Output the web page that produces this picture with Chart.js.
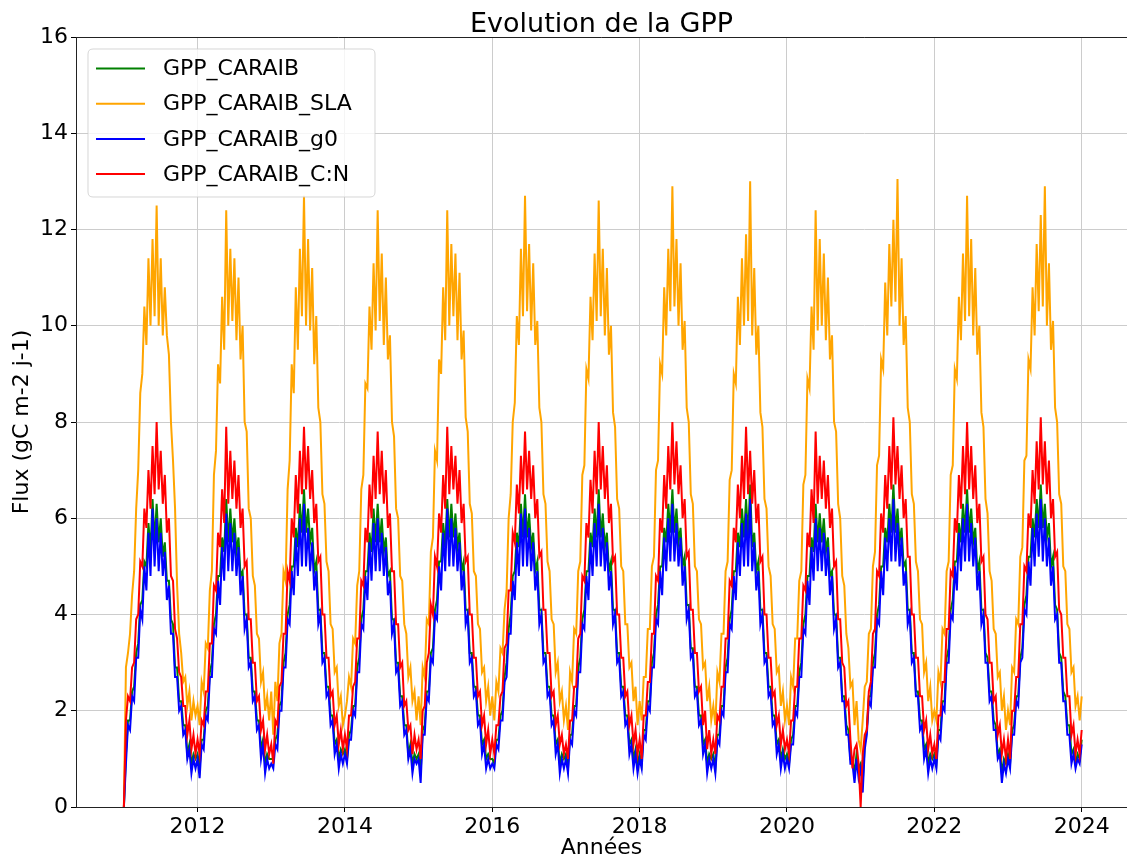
<!DOCTYPE html>
<html lang="fr">
<head>
<meta charset="utf-8">
<title>Evolution de la GPP</title>
<script src="https://cdn.jsdelivr.net/npm/chart.js@4.4.1/dist/chart.umd.min.js"></script>
<style>
  html, body { margin: 0; padding: 0; background: #ffffff; }
  #wrap { width: 1127px; height: 861px; }
</style>
</head>
<body>
<div id="wrap"><canvas id="gpp" width="1127" height="861"></canvas></div>
<script>
// Simulated GPP (gC m-2 j-1), 36 values per year (about every 10 days), 2011-01-01 to 2024-01-01
const startYear = 2011;
const samplesPerYear = 36;

const seriesLabels = ['GPP_CARAIB', 'GPP_CARAIB_SLA', 'GPP_CARAIB_g0', 'GPP_CARAIB_C:N'];
const seriesColors = ['green', 'orange', 'blue', 'red'];
const xTickYears = [2012, 2014, 2016, 2018, 2020, 2022, 2024];
const yTickStep = 2;

const gppCaraib = [
  /* 2011 */ 0, 1.1, 1.8, 1.8, 2.4, 2.5, 3.2, 3.4, 4.2, 4.3, 5.1, 5.0, 5.9, 5.3, 6.4, 5.5, 6.3, 5.5, 6.0, 5.2, 5.5, 4.7, 4.7, 3.9, 3.8, 2.9, 2.9, 2.2, 2.2, 1.7, 1.7, 1.1, 1.3, 0.9, 1.1, 1.0,
  /* 2012 */ 1.1, 0.8, 1.4, 1.4, 2.0, 2.1, 2.8, 3.0, 3.8, 4.0, 4.8, 4.8, 5.6, 5.3, 6.4, 5.5, 6.2, 5.5, 6.0, 5.3, 5.6, 4.8, 4.9, 4.0, 4.0, 3.1, 3.1, 2.4, 2.4, 1.8, 1.8, 1.2, 1.4, 0.9, 1.1, 1.0,
  /* 2013 */ 1.0, 1.0, 1.4, 1.5, 2.1, 2.2, 3.0, 3.2, 4.0, 4.2, 5.0, 5.0, 5.8, 5.4, 6.3, 5.7, 6.6, 5.7, 6.2, 5.5, 5.8, 4.9, 5.1, 4.1, 4.1, 3.2, 3.2, 2.5, 2.5, 1.9, 1.9, 1.3, 1.4, 1.0, 1.2, 1.1,
  /* 2014 */ 1.2, 1.0, 1.5, 1.6, 2.1, 2.1, 2.9, 3.1, 3.9, 4.1, 4.9, 4.9, 5.7, 5.3, 6.2, 5.5, 6.3, 5.5, 6.0, 5.3, 5.6, 4.8, 4.9, 3.9, 3.9, 3.0, 3.0, 2.3, 2.3, 1.7, 1.7, 1.1, 1.3, 0.9, 1.1, 1.0,
  /* 2015 */ 1.1, 0.7, 1.6, 1.7, 2.4, 2.4, 3.2, 3.3, 4.1, 4.3, 5.1, 5.1, 5.9, 5.4, 6.4, 5.6, 6.3, 5.6, 6.1, 5.4, 5.7, 4.9, 5.1, 4.1, 4.1, 3.2, 3.2, 2.5, 2.5, 1.9, 1.9, 1.3, 1.4, 1.0, 1.1, 1.0,
  /* 2016 */ 1.0, 0.9, 1.4, 1.4, 1.9, 2.0, 2.7, 3.0, 3.7, 4.0, 4.8, 4.9, 5.7, 5.4, 6.3, 5.6, 6.5, 5.6, 6.1, 5.4, 5.7, 4.9, 5.1, 4.1, 4.1, 3.2, 3.2, 2.5, 2.5, 1.9, 1.9, 1.3, 1.4, 0.9, 1.1, 1.0,
  /* 2017 */ 1.1, 0.8, 1.5, 1.5, 2.1, 2.1, 2.9, 3.1, 3.9, 4.1, 4.9, 4.9, 5.7, 5.4, 6.2, 5.6, 6.6, 5.6, 6.1, 5.4, 5.7, 4.9, 5.1, 4.1, 4.1, 3.2, 3.2, 2.5, 2.5, 1.9, 1.9, 1.3, 1.4, 1.0, 1.2, 0.9,
  /* 2018 */ 1.1, 0.9, 1.6, 1.6, 2.2, 2.2, 3.0, 3.2, 4.0, 4.2, 5.0, 5.0, 5.8, 5.5, 6.3, 5.7, 6.6, 5.7, 6.2, 5.5, 5.8, 5.0, 5.2, 4.2, 4.2, 3.3, 3.3, 2.5, 2.5, 1.9, 1.9, 1.3, 1.4, 0.9, 1.1, 1.0,
  /* 2019 */ 1.1, 0.8, 1.5, 1.5, 2.1, 2.1, 2.9, 3.1, 3.9, 4.1, 4.9, 4.9, 5.7, 5.4, 6.2, 5.6, 6.4, 5.6, 6.7, 5.4, 5.7, 4.9, 5.1, 4.1, 4.1, 3.2, 3.2, 2.5, 2.5, 1.9, 1.9, 1.3, 1.4, 1.0, 1.2, 1.0,
  /* 2020 */ 1.1, 0.9, 1.4, 1.5, 2.1, 2.1, 2.8, 3.0, 3.8, 4.0, 4.8, 4.8, 5.6, 5.3, 6.3, 5.5, 6.1, 5.5, 6.0, 5.3, 5.6, 4.8, 4.9, 4.0, 4.0, 3.1, 3.1, 2.3, 2.3, 1.7, 1.6, 1.0, 1.0, 0.7, 1.1, 0.8,
  /* 2021 */ 0.9, 0.5, 1.3, 1.6, 2.3, 2.3, 3.0, 3.2, 4.0, 4.2, 5.0, 5.0, 5.8, 5.5, 6.3, 5.7, 6.7, 5.7, 6.2, 5.5, 5.8, 5.0, 5.1, 4.1, 4.1, 3.2, 3.2, 2.4, 2.4, 1.8, 1.8, 1.2, 1.3, 0.9, 1.1, 1.0,
  /* 2022 */ 1.1, 0.9, 1.6, 1.6, 2.2, 2.2, 3.1, 3.3, 4.1, 4.3, 5.1, 5.1, 5.9, 5.5, 6.3, 5.7, 6.6, 5.7, 6.2, 5.5, 5.8, 4.9, 5.1, 4.1, 4.1, 3.2, 3.1, 2.4, 2.4, 1.8, 1.7, 1.1, 1.2, 0.7, 1.0, 0.9,
  /* 2023 */ 1.1, 0.9, 1.6, 1.7, 2.3, 2.3, 3.1, 3.3, 4.2, 4.4, 5.2, 5.2, 6.0, 5.6, 6.4, 5.8, 6.7, 5.8, 6.3, 5.6, 5.9, 5.0, 5.2, 4.2, 4.1, 3.2, 3.1, 2.4, 2.3, 1.7, 1.7, 1.1, 1.2, 0.9, 1.1, 1.0,
  /* 2024 */ 1.4
];

const gppCaraibSla = [
  /* 2011 */ 0, 2.9, 3.2, 3.6, 4.4, 4.9, 6.2, 7.0, 8.6, 9.0, 10.4, 9.6, 11.4, 10.0, 11.8, 10.2, 12.5, 10.0, 11.4, 9.8, 10.8, 9.8, 9.4, 8.0, 7.2, 6.2, 4.6, 3.6, 3.2, 2.6, 2.7, 2.1, 2.4, 1.8, 2.2, 1.9,
  /* 2012 */ 2.1, 1.7, 2.6, 2.4, 3.4, 3.3, 4.5, 4.9, 6.9, 7.4, 9.2, 8.8, 10.6, 9.5, 12.4, 10.0, 11.6, 10.1, 11.4, 9.7, 11.0, 9.3, 10.0, 8.0, 7.8, 6.2, 6.0, 4.8, 4.6, 3.6, 3.5, 2.6, 2.8, 2.0, 2.3, 1.8,
  /* 2013 */ 2.4, 1.5, 2.6, 2.2, 3.4, 3.6, 4.9, 4.7, 6.6, 7.2, 9.2, 8.6, 10.8, 9.5, 11.6, 10.2, 12.7, 10.0, 11.8, 9.9, 11.2, 9.2, 10.2, 8.3, 8.0, 6.5, 6.3, 5.1, 4.9, 3.8, 3.7, 2.8, 2.9, 2.1, 2.3, 1.7,
  /* 2014 */ 1.9, 2.2, 2.7, 2.5, 3.5, 3.4, 4.6, 4.9, 6.6, 6.9, 8.8, 8.7, 10.4, 9.5, 11.3, 9.9, 12.4, 10.1, 11.5, 9.6, 11.0, 9.3, 9.8, 8.0, 7.7, 6.2, 6.0, 4.8, 4.7, 3.8, 3.6, 2.7, 2.9, 2.2, 2.4, 1.8,
  /* 2015 */ 2.3, 1.7, 2.9, 2.7, 3.9, 3.8, 5.3, 5.6, 7.4, 7.2, 9.3, 9.0, 10.8, 9.7, 12.4, 10.0, 11.7, 10.2, 11.5, 9.7, 11.1, 9.3, 9.9, 8.1, 7.8, 6.3, 6.1, 4.9, 4.8, 3.8, 3.7, 2.8, 2.9, 2.2, 2.5, 1.9,
  /* 2016 */ 2.3, 1.8, 2.6, 2.4, 3.3, 3.2, 4.1, 4.5, 6.0, 6.5, 8.0, 8.4, 10.2, 9.6, 11.6, 10.2, 12.7, 10.3, 11.7, 9.9, 11.3, 9.6, 10.1, 8.3, 8.0, 6.5, 6.3, 5.1, 4.9, 3.9, 3.8, 2.8, 3.0, 2.2, 2.4, 1.8,
  /* 2017 */ 2.1, 1.6, 2.8, 2.6, 3.7, 3.6, 4.9, 5.1, 6.9, 7.1, 9.1, 8.9, 10.6, 9.7, 11.5, 10.1, 12.6, 10.2, 11.6, 9.8, 11.2, 9.4, 10.0, 8.2, 7.9, 6.4, 6.2, 5.0, 4.9, 3.8, 3.8, 2.9, 3.0, 2.2, 2.5, 1.7,
  /* 2018 */ 2.2, 1.8, 2.7, 2.7, 3.7, 3.7, 5.0, 5.2, 7.0, 7.2, 9.2, 9.0, 10.8, 9.8, 11.6, 10.3, 12.9, 10.4, 11.8, 10.0, 11.3, 9.5, 10.1, 8.3, 8.0, 6.5, 6.3, 5.0, 4.9, 3.9, 3.8, 2.9, 3.0, 2.2, 2.5, 1.8,
  /* 2019 */ 2.1, 1.7, 2.8, 2.6, 3.6, 3.6, 4.9, 5.1, 6.8, 7.0, 9.0, 8.8, 10.6, 9.6, 11.4, 10.0, 11.9, 10.1, 13.0, 9.8, 11.2, 9.4, 10.0, 8.2, 7.9, 6.4, 6.2, 5.0, 4.8, 3.8, 3.7, 2.8, 2.9, 2.1, 2.4, 1.8,
  /* 2020 */ 2.1, 1.7, 2.7, 2.5, 3.5, 3.5, 4.7, 4.9, 6.7, 6.9, 8.9, 8.7, 10.4, 9.5, 12.4, 9.9, 11.8, 10.0, 11.5, 9.7, 11.0, 9.3, 9.8, 8.0, 7.8, 6.3, 6.0, 4.8, 4.6, 3.6, 3.3, 2.5, 2.6, 1.7, 2.2, 1.4,
  /* 2021 */ 1.2, 1.8, 2.5, 2.6, 3.6, 3.7, 5.0, 5.3, 7.1, 7.3, 9.3, 9.1, 10.9, 9.8, 11.7, 10.4, 12.2, 10.5, 13.05, 10.0, 11.4, 9.6, 10.2, 8.3, 8.0, 6.5, 6.3, 5.1, 4.9, 3.9, 3.8, 2.8, 3.0, 2.2, 2.5, 1.8,
  /* 2022 */ 2.0, 1.8, 2.8, 2.6, 3.7, 3.6, 4.9, 5.1, 6.9, 7.1, 9.1, 8.9, 10.6, 9.7, 11.5, 10.1, 12.7, 10.2, 11.8, 9.8, 11.2, 9.4, 10.0, 8.2, 7.9, 6.4, 6.1, 4.9, 4.7, 3.7, 3.6, 2.7, 2.8, 2.0, 2.3, 1.6,
  /* 2023 */ 2.0, 1.7, 2.9, 2.8, 3.9, 3.8, 5.2, 5.4, 7.2, 7.3, 9.3, 9.1, 10.8, 9.8, 11.7, 10.3, 12.3, 10.4, 12.9, 10.0, 11.3, 9.5, 10.1, 8.3, 8.0, 6.5, 6.3, 5.0, 4.9, 3.8, 3.7, 2.8, 2.9, 2.1, 2.3, 1.8,
  /* 2024 */ 2.3
];

const gppCaraibG0 = [
  /* 2011 */ 0, 0.9, 1.7, 1.6, 2.3, 2.2, 3.1, 3.1, 4.1, 3.9, 5.0, 4.5, 5.7, 4.8, 6.2, 5.0, 6.0, 4.9, 5.7, 4.8, 5.3, 4.3, 4.6, 3.6, 3.6, 2.7, 2.7, 2.0, 2.1, 1.5, 1.6, 1.0, 1.2, 0.7, 1.0, 0.8,
  /* 2012 */ 1.0, 0.6, 1.3, 1.2, 1.9, 1.8, 2.7, 2.7, 3.7, 3.6, 4.7, 4.2, 5.4, 4.7, 6.1, 4.9, 5.9, 4.9, 5.7, 4.8, 5.4, 4.4, 4.8, 3.7, 3.9, 2.9, 3.0, 2.2, 2.3, 1.6, 1.7, 1.0, 1.3, 0.7, 1.0, 0.8,
  /* 2013 */ 0.9, 0.8, 1.3, 1.2, 2.0, 2.0, 2.9, 2.9, 3.9, 3.8, 4.9, 4.4, 5.6, 4.8, 6.0, 5.0, 6.3, 5.0, 5.8, 4.9, 5.5, 4.5, 4.9, 3.8, 4.0, 3.0, 3.1, 2.3, 2.4, 1.7, 1.8, 1.1, 1.3, 0.8, 1.1, 0.9,
  /* 2014 */ 1.1, 0.9, 1.4, 1.4, 2.0, 1.9, 2.8, 2.8, 3.8, 3.7, 4.8, 4.3, 5.5, 4.7, 5.9, 4.9, 6.0, 4.9, 5.7, 4.8, 5.4, 4.4, 4.7, 3.6, 3.8, 2.8, 2.9, 2.1, 2.2, 1.5, 1.6, 1.0, 1.2, 0.7, 1.0, 0.9,
  /* 2015 */ 1.0, 0.5, 1.5, 1.5, 2.3, 2.2, 3.1, 3.0, 4.0, 3.9, 5.0, 4.5, 5.7, 4.9, 6.2, 5.0, 6.0, 5.0, 5.8, 4.9, 5.5, 4.5, 4.9, 3.8, 4.0, 3.0, 3.1, 2.3, 2.4, 1.7, 1.8, 1.1, 1.3, 0.8, 1.0, 0.8,
  /* 2016 */ 0.9, 0.8, 1.3, 1.2, 1.8, 1.8, 2.6, 2.7, 3.6, 3.6, 4.7, 4.3, 5.5, 4.8, 6.1, 5.0, 6.2, 5.0, 5.8, 4.9, 5.5, 4.5, 4.9, 3.8, 4.0, 3.0, 3.1, 2.3, 2.4, 1.7, 1.8, 1.1, 1.3, 0.7, 1.0, 0.8,
  /* 2017 */ 1.0, 0.7, 1.4, 1.3, 2.0, 1.9, 2.8, 2.8, 3.8, 3.7, 4.8, 4.3, 5.5, 4.8, 5.9, 5.0, 6.3, 5.0, 5.8, 4.9, 5.5, 4.5, 4.9, 3.8, 4.0, 3.0, 3.1, 2.3, 2.4, 1.7, 1.8, 1.1, 1.3, 0.8, 1.1, 0.7,
  /* 2018 */ 1.0, 0.8, 1.5, 1.4, 2.1, 2.0, 2.9, 2.9, 3.9, 3.8, 4.9, 4.4, 5.6, 4.9, 6.0, 5.1, 6.3, 5.1, 5.9, 5.0, 5.6, 4.6, 5.0, 3.9, 4.1, 3.1, 3.2, 2.3, 2.4, 1.7, 1.8, 1.1, 1.3, 0.7, 1.0, 0.8,
  /* 2019 */ 1.0, 0.7, 1.4, 1.3, 2.0, 1.9, 2.8, 2.8, 3.8, 3.7, 4.8, 4.3, 5.5, 4.8, 5.9, 5.0, 6.1, 5.0, 6.4, 4.9, 5.5, 4.5, 4.9, 3.8, 4.0, 3.0, 3.1, 2.3, 2.4, 1.7, 1.8, 1.1, 1.3, 0.8, 1.1, 0.8,
  /* 2020 */ 1.0, 0.8, 1.3, 1.3, 2.0, 1.9, 2.7, 2.7, 3.7, 3.6, 4.7, 4.2, 5.4, 4.7, 6.0, 4.9, 5.8, 4.9, 5.7, 4.8, 5.4, 4.4, 4.8, 3.7, 3.9, 2.9, 3.0, 2.2, 2.2, 1.5, 1.5, 0.9, 0.9, 0.5, 1.0, 0.6,
  /* 2021 */ 0.8, 0.3, 1.2, 1.5, 2.2, 2.1, 2.9, 2.9, 3.9, 3.8, 4.9, 4.4, 5.6, 4.9, 6.0, 5.1, 6.4, 5.1, 5.9, 5.0, 5.6, 4.6, 4.9, 3.8, 4.0, 3.0, 3.1, 2.3, 2.3, 1.6, 1.7, 1.0, 1.2, 0.7, 1.0, 0.8,
  /* 2022 */ 1.0, 0.8, 1.5, 1.4, 2.1, 2.0, 3.0, 3.0, 4.0, 3.9, 5.0, 4.5, 5.7, 4.9, 6.0, 5.1, 6.3, 5.1, 5.9, 5.0, 5.6, 4.5, 4.9, 3.8, 4.0, 3.0, 3.0, 2.2, 2.3, 1.6, 1.6, 1.0, 1.1, 0.5, 0.9, 0.7,
  /* 2023 */ 1.0, 0.8, 1.5, 1.5, 2.2, 2.1, 3.0, 3.1, 4.1, 4.0, 5.1, 4.6, 5.8, 5.0, 6.1, 5.2, 6.4, 5.1, 6.0, 5.0, 5.6, 4.6, 5.0, 3.9, 4.0, 3.0, 3.0, 2.2, 2.2, 1.5, 1.5, 0.9, 1.1, 0.8, 1.0, 0.9,
  /* 2024 */ 1.3
];

const gppCaraibCN = [
  /* 2011 */ 0, 1.8, 2.3, 2.2, 2.9, 3.0, 3.9, 4.0, 5.1, 5.0, 6.2, 5.8, 7.0, 6.2, 7.5, 6.5, 8.0, 6.6, 7.4, 6.3, 6.9, 5.7, 6.0, 4.8, 4.7, 3.7, 3.5, 2.8, 2.7, 2.1, 2.1, 1.5, 1.8, 1.2, 1.5, 1.1,
  /* 2012 */ 1.4, 1.1, 1.8, 1.7, 2.4, 2.4, 3.4, 3.4, 4.6, 4.5, 5.7, 5.4, 6.6, 5.9, 7.9, 6.3, 7.4, 6.4, 7.2, 6.2, 6.9, 5.8, 6.2, 5.0, 5.1, 3.9, 3.9, 3.0, 3.0, 2.2, 2.3, 1.6, 1.8, 1.2, 1.5, 1.1,
  /* 2013 */ 1.3, 0.9, 1.8, 1.7, 2.5, 2.6, 3.6, 3.6, 4.9, 4.7, 6.0, 5.6, 6.9, 6.1, 7.4, 6.5, 7.9, 6.6, 7.5, 6.4, 7.0, 5.9, 6.3, 5.1, 5.2, 4.0, 4.0, 3.1, 3.1, 2.3, 2.4, 1.7, 1.9, 1.3, 1.6, 1.2,
  /* 2014 */ 1.5, 1.2, 1.9, 1.9, 2.5, 2.6, 3.5, 3.5, 4.7, 4.6, 5.8, 5.5, 6.7, 6.0, 7.3, 6.4, 7.8, 6.5, 7.4, 6.3, 7.0, 5.8, 6.1, 4.9, 4.9, 3.8, 3.8, 2.9, 3.0, 2.1, 2.2, 1.6, 1.7, 1.1, 1.5, 1.2,
  /* 2015 */ 1.4, 1.0, 2.0, 2.1, 3.0, 3.2, 4.2, 4.0, 5.2, 5.0, 6.1, 5.7, 6.9, 6.2, 7.9, 6.5, 7.5, 6.6, 7.3, 6.3, 7.0, 5.9, 6.3, 5.1, 5.2, 4.0, 4.0, 3.1, 3.1, 2.3, 2.4, 1.7, 1.9, 1.3, 1.6, 1.1,
  /* 2016 */ 1.4, 1.1, 1.7, 1.7, 2.3, 2.4, 3.3, 3.4, 4.5, 4.5, 5.7, 5.5, 6.7, 6.1, 7.3, 6.5, 7.8, 6.6, 7.4, 6.4, 7.1, 6.0, 6.4, 5.2, 5.3, 4.1, 4.1, 3.2, 3.2, 2.3, 2.4, 1.7, 1.9, 1.3, 1.5, 1.1,
  /* 2017 */ 1.3, 1.0, 1.8, 1.8, 2.5, 2.5, 3.5, 3.6, 4.8, 4.7, 5.9, 5.6, 6.8, 6.1, 7.4, 6.5, 8.0, 6.6, 7.5, 6.4, 7.1, 5.9, 6.3, 5.1, 5.2, 4.0, 4.0, 3.1, 3.1, 2.3, 2.4, 1.7, 1.9, 1.3, 1.6, 1.1,
  /* 2018 */ 1.4, 1.0, 1.9, 1.9, 2.6, 2.6, 3.6, 3.6, 4.8, 4.7, 6.0, 5.7, 6.9, 6.2, 7.5, 6.6, 8.0, 6.7, 7.6, 6.5, 7.1, 6.0, 6.4, 5.2, 5.3, 4.1, 4.1, 3.2, 3.2, 2.4, 2.5, 1.7, 2.0, 1.2, 1.6, 1.1,
  /* 2019 */ 1.4, 1.1, 1.9, 1.8, 2.5, 2.5, 3.5, 3.5, 4.7, 4.6, 5.8, 5.5, 6.7, 6.0, 7.3, 6.4, 7.9, 6.5, 7.4, 6.3, 7.0, 5.9, 6.3, 5.1, 5.2, 4.0, 4.0, 3.1, 3.1, 2.3, 2.4, 1.7, 1.9, 1.3, 1.6, 1.2,
  /* 2020 */ 1.4, 1.1, 1.8, 1.8, 2.5, 2.5, 3.5, 3.5, 4.6, 4.5, 5.7, 5.4, 6.6, 5.9, 7.8, 6.3, 7.3, 6.4, 7.2, 6.2, 6.9, 5.8, 6.2, 5.0, 5.1, 3.9, 3.9, 3.0, 2.9, 2.1, 2.2, 1.4, 0.8, 1.2, 1.3, 0.9,
  /* 2021 */ 0, 1.1, 1.5, 1.6, 2.4, 2.6, 3.6, 3.7, 4.9, 4.8, 6.1, 5.7, 6.9, 6.2, 7.5, 6.6, 8.1, 6.7, 7.5, 6.4, 7.1, 6.0, 6.4, 5.2, 5.2, 4.0, 4.0, 3.1, 3.1, 2.3, 2.3, 1.6, 1.8, 1.2, 1.5, 1.1,
  /* 2022 */ 1.3, 1.0, 1.9, 1.9, 2.6, 2.6, 3.7, 3.7, 4.9, 4.8, 6.0, 5.7, 6.9, 6.2, 7.5, 6.5, 8.0, 6.6, 7.5, 6.4, 7.1, 5.9, 6.3, 5.1, 5.2, 4.0, 3.9, 3.0, 3.0, 2.2, 2.3, 1.5, 1.7, 1.1, 1.4, 1.0,
  /* 2023 */ 1.4, 1.0, 2.0, 2.0, 2.7, 2.7, 3.8, 3.8, 5.0, 4.9, 6.1, 5.8, 7.0, 6.3, 7.6, 6.6, 8.1, 6.7, 7.6, 6.5, 7.2, 6.0, 6.4, 5.2, 5.3, 4.1, 4.0, 3.1, 3.1, 2.3, 2.3, 1.5, 1.7, 1.1, 1.4, 1.1,
  /* 2024 */ 1.6
];

const seriesValues = [gppCaraib, gppCaraibSla, gppCaraibG0, gppCaraibCN];

const FONT = 'DejaVu Sans';

// Pair every value with its date expressed as a decimal year
function toPoints(values) {
  return values.map((v, i) => ({ x: startYear + i / samplesPerYear, y: v }));
}

// Top spine, centred title and framed legend drawn inside the axes
const frameAndLegend = {
  id: 'frameAndLegend',
  afterDatasetsDraw(chart) {
    const { ctx, chartArea: a } = chart;
    ctx.save();
    // top spine
    ctx.strokeStyle = '#222222';
    ctx.lineWidth = 1;
    ctx.beginPath();
    ctx.moveTo(a.left, a.top + 0.5);
    ctx.lineTo(a.right, a.top + 0.5);
    ctx.stroke();

    // legend frame
    const bx = a.left + 12, by = a.top + 12, bw = 287, bh = 148, r = 5;
    ctx.beginPath();
    ctx.moveTo(bx + r, by);
    ctx.lineTo(bx + bw - r, by);
    ctx.quadraticCurveTo(bx + bw, by, bx + bw, by + r);
    ctx.lineTo(bx + bw, by + bh - r);
    ctx.quadraticCurveTo(bx + bw, by + bh, bx + bw - r, by + bh);
    ctx.lineTo(bx + r, by + bh);
    ctx.quadraticCurveTo(bx, by + bh, bx, by + bh - r);
    ctx.lineTo(bx, by + r);
    ctx.quadraticCurveTo(bx, by, bx + r, by);
    ctx.closePath();
    ctx.fillStyle = 'rgba(255,255,255,0.8)';
    ctx.fill();
    ctx.strokeStyle = 'rgba(204,204,204,0.8)';
    ctx.lineWidth = 1;
    ctx.stroke();

    // legend entries
    ctx.font = '22px "' + FONT + '"';
    ctx.textBaseline = 'middle';
    ctx.textAlign = 'left';
    chart.data.datasets.forEach((ds, i) => {
      const y = by + 19.5 + i * 35.2;
      ctx.strokeStyle = ds.borderColor;
      ctx.lineWidth = 2;
      ctx.beginPath();
      ctx.moveTo(bx + 8, y);
      ctx.lineTo(bx + 57, y);
      ctx.stroke();
      ctx.fillStyle = '#000000';
      ctx.fillText(ds.label, bx + 75, y + 1);
    });

    // title
    ctx.font = '27px "' + FONT + '"';
    ctx.textAlign = 'center';
    ctx.textBaseline = 'alphabetic';
    ctx.fillStyle = '#000000';
    ctx.fillText('Evolution de la GPP', (a.left + a.right) / 2, 32);
    ctx.restore();
  }
};

const datasets = seriesLabels.map((label, k) => ({
  label: label,
  data: toPoints(seriesValues[k]),
  borderColor: seriesColors[k],
  backgroundColor: seriesColors[k],
  borderWidth: 2,
  pointRadius: 0,
  tension: 0,
  fill: false,
  // later series sit on top of earlier ones
  order: seriesLabels.length - k
}));

new Chart(document.getElementById('gpp'), {
  type: 'line',
  data: { datasets: datasets },
  plugins: [frameAndLegend],
  options: {
    responsive: false,
    animation: false,
    devicePixelRatio: 1,
    parsing: false,
    layout: { padding: { top: 37, left: 0, right: 0, bottom: 0 } },
    plugins: {
      legend: { display: false },
      title: { display: false },
      tooltip: { enabled: false }
    },
    scales: {
      x: {
        type: 'linear',
        min: 2010.35,
        max: 2024.615,
        afterBuildTicks: (axis) => { axis.ticks = xTickYears.map(v => ({ value: v })); },
        afterFit: (axis) => { axis.height = 54; },
        ticks: {
          color: '#000000',
          font: { family: FONT, size: 22 },
          padding: 2,
          maxRotation: 0,
          autoSkip: false,
          callback: (v) => String(v)
        },
        grid: { color: '#cccccc', lineWidth: 1, tickColor: '#000000', tickLength: 5, drawTicks: true },
        border: { color: '#222222', width: 1 },
        title: {
          display: true,
          text: 'Années',
          color: '#000000',
          font: { family: FONT, size: 22 },
          padding: { top: 0, bottom: 0 }
        }
      },
      y: {
        type: 'linear',
        min: 0,
        max: 16,
        afterFit: (axis) => { axis.width = 76; },
        ticks: {
          stepSize: yTickStep,
          color: '#000000',
          font: { family: FONT, size: 22 },
          padding: 3,
          callback: (v) => String(v)
        },
        grid: { color: '#cccccc', lineWidth: 1, tickColor: '#000000', tickLength: 5, drawTicks: true },
        border: { color: '#222222', width: 1 },
        title: {
          display: true,
          text: 'Flux (gC m-2 j-1)',
          color: '#000000',
          font: { family: FONT, size: 22 },
          padding: { top: 9, bottom: 0 }
        }
      }
    }
  }
});
</script>
</body>
</html>
